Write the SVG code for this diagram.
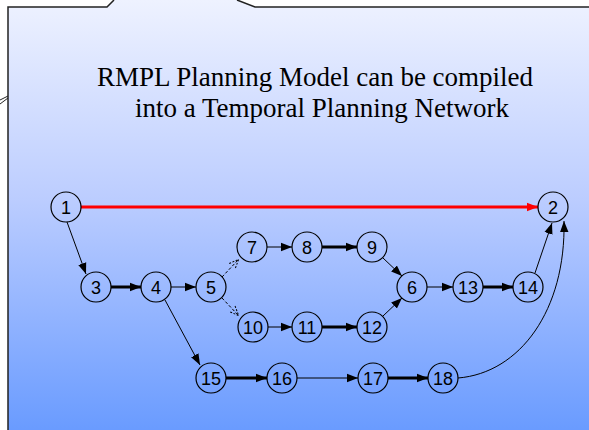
<svg xmlns="http://www.w3.org/2000/svg" width="589" height="430" viewBox="0 0 589 430">
<defs>
<linearGradient id="bg" x1="0" y1="0" x2="0" y2="1">
<stop offset="0" stop-color="#eef2ff"/>
<stop offset="0.45" stop-color="#bccdff"/>
<stop offset="1" stop-color="#6699ff"/>
</linearGradient>
<marker id="ah" markerUnits="userSpaceOnUse" markerWidth="12" markerHeight="10" refX="11" refY="5" orient="auto">
<path d="M0,0.8 L11,5 L0,9.2 Z" fill="#000"/>
</marker>
<marker id="ahr" markerUnits="userSpaceOnUse" markerWidth="12" markerHeight="10" refX="11" refY="5" orient="auto">
<path d="M0,0.8 L11,5 L0,9.2 Z" fill="#ff0000"/>
</marker>
<marker id="ahd" markerUnits="userSpaceOnUse" markerWidth="12" markerHeight="10" refX="11" refY="5" orient="auto">
<path d="M1,1 L10.5,5 L1,9" fill="none" stroke="#000" stroke-width="1" stroke-dasharray="2,1.5"/>
</marker>
<style>
.n circle{fill:none;stroke:#000;stroke-width:1.2}
.n text{font-family:"Liberation Sans",Arial,sans-serif;font-size:18px;fill:#000;text-anchor:middle;dominant-baseline:central}
.e{fill:none;stroke:#000;stroke-width:1;marker-end:url(#ah)}
.t{stroke-width:3}
.d{stroke-dasharray:3,2;marker-end:url(#ahd)}
.title{font-family:"Liberation Serif","Times New Roman",serif;font-size:27px;fill:#000;text-anchor:middle}
</style>
</defs>
<rect x="0" y="0" width="589" height="430" fill="#fff"/>
<g id="callout">
<path d="M8,430 L8,7 L107,7 L114,0 L237,0 L255,7 L600,7 L600,440 Z" fill="url(#bg)"/>
<path d="M8,430 L8,7 L107,7 L114,0 M237,0 L255,7 L589,7" fill="none" stroke="#222" stroke-width="1.5"/>
<path d="M0,100 L8,96 M0,104 L8,98" fill="none" stroke="#222" stroke-width="1"/>
</g>
<text class="title" x="315" y="86">RMPL Planning Model can be compiled</text>
<text class="title" x="322" y="117">into a Temporal Planning Network</text>
<g id="connectors">
<line x1="81" y1="207" x2="538" y2="207" fill="none" stroke="#ff0000" stroke-width="3" marker-end="url(#ahr)"/>
<line class="e" x1="67" y1="222" x2="86" y2="274"/>
<line class="e t" x1="111" y1="287" x2="141" y2="287"/>
<line class="e" x1="171" y1="287" x2="196" y2="287"/>
<line class="e d" x1="222" y1="277" x2="239" y2="259"/>
<line class="e d" x1="222" y1="298" x2="239" y2="316"/>
<line class="e" x1="267" y1="247" x2="292" y2="247"/>
<line class="e t" x1="322" y1="247" x2="357" y2="247"/>
<line class="e" x1="383" y1="258" x2="402" y2="276"/>
<line class="e" x1="268" y1="327" x2="292" y2="327"/>
<line class="e t" x1="322" y1="327" x2="357" y2="327"/>
<line class="e" x1="383" y1="316" x2="402" y2="298"/>
<line class="e" x1="427" y1="287" x2="453" y2="287"/>
<line class="e t" x1="483" y1="287" x2="513" y2="287"/>
<line class="e" x1="535" y1="273" x2="552" y2="223"/>
<line class="e" x1="165" y1="300" x2="200" y2="365"/>
<line class="e t" x1="226" y1="378" x2="267" y2="378"/>
<line class="e" x1="297" y1="378" x2="358" y2="378"/>
<line class="e t" x1="388" y1="378" x2="428" y2="378"/>
<path class="e" d="M458,378 C520,373 566,310 564,221"/>
</g>
<g id="n1" class="n"><circle cx="66" cy="207" r="15"/><text x="66" y="208">1</text></g>
<g id="n2" class="n"><circle cx="553" cy="207" r="15"/><text x="553" y="208">2</text></g>
<g id="n3" class="n"><circle cx="96" cy="287" r="15"/><text x="96" y="288">3</text></g>
<g id="n4" class="n"><circle cx="156" cy="287" r="15"/><text x="156" y="288">4</text></g>
<g id="n5" class="n"><circle cx="211" cy="287" r="15"/><text x="211" y="288">5</text></g>
<g id="n7" class="n"><circle cx="252" cy="247" r="15"/><text x="252" y="248">7</text></g>
<g id="n8" class="n"><circle cx="307" cy="247" r="15"/><text x="307" y="248">8</text></g>
<g id="n9" class="n"><circle cx="372" cy="247" r="15"/><text x="372" y="248">9</text></g>
<g id="n6" class="n"><circle cx="412" cy="287" r="15"/><text x="412" y="288">6</text></g>
<g id="n13" class="n"><circle cx="468" cy="287" r="15"/><text x="468" y="288">13</text></g>
<g id="n14" class="n"><circle cx="528" cy="287" r="15"/><text x="528" y="288">14</text></g>
<g id="n10" class="n"><circle cx="253" cy="327" r="15"/><text x="253" y="328">10</text></g>
<g id="n11" class="n"><circle cx="307" cy="327" r="15"/><text x="307" y="328">11</text></g>
<g id="n12" class="n"><circle cx="372" cy="327" r="15"/><text x="372" y="328">12</text></g>
<g id="n15" class="n"><circle cx="211" cy="378" r="15"/><text x="211" y="379">15</text></g>
<g id="n16" class="n"><circle cx="282" cy="378" r="15"/><text x="282" y="379">16</text></g>
<g id="n17" class="n"><circle cx="373" cy="378" r="15"/><text x="373" y="379">17</text></g>
<g id="n18" class="n"><circle cx="443" cy="378" r="15"/><text x="443" y="379">18</text></g>
</svg>
